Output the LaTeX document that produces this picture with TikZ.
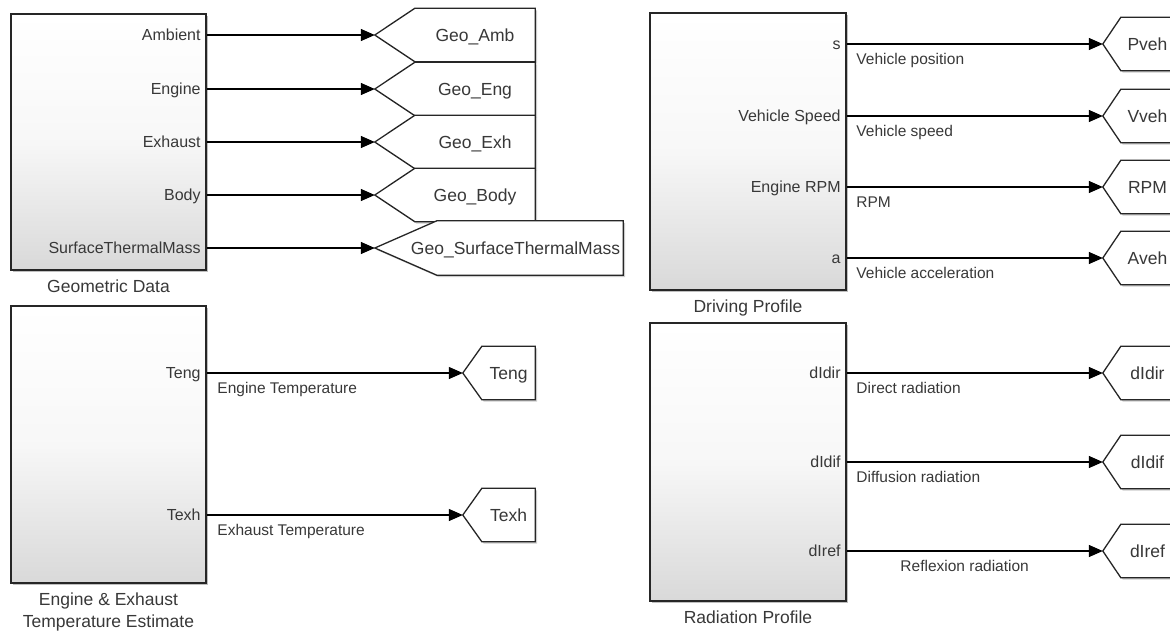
\documentclass[tikz,border=0pt]{standalone}
\usepackage{fontspec}
\setmainfont{Liberation Sans}
\usetikzlibrary{calc,positioning,arrows.meta,shadows}
\pgfdeclarelayer{background}
\pgfsetlayers{background,main}
\tikzset{
% Subsystem blocks: shaded box with a soft shadow
sub block/.style={draw=black!85,line width=1.6pt,top color=white,bottom color=black!15,middle color=white!97!black,
  drop shadow={shadow xshift=2pt,shadow yshift=-2pt,opacity=0.25,fill=black}},
% Port names, written inside the block at its right edge
port/.style={anchor=east,inner xsep=6pt,inner ysep=0pt,text height=11.5pt,text depth=0pt,text=black!78,
  font=\fontsize{16}{18}\selectfont},
% Signal names under the lines
sig name/.style={anchor=north west,inner sep=0pt,text height=11pt,text depth=0pt,text=black!78,
  font=\fontsize{15.5}{18}\selectfont,xshift=9pt,yshift=-9pt},
block name/.style={inner sep=0pt,align=center,text=black!78,font=\fontsize{17.5}{21.5}\selectfont},
% Goto tags: the node is the flat part, the tip is added afterwards
goto/.style={minimum height=53pt,inner sep=0pt,text height=12.5pt,text depth=0pt,text=black!78,
  font=\fontsize{17.5}{20}\selectfont},
goto box/.style={draw=black!85,line width=1.3pt,fill=white,
  drop shadow={shadow xshift=2pt,shadow yshift=-2pt,opacity=0.2,fill=black}},
sig/.style={draw=black,line width=1.3pt,-{Triangle[length=14pt,width=12pt]}}
}

\begin{document}
\begin{tikzpicture}[x=1pt,y=-1pt]
  \useasboundingbox (0,0) rectangle (1170,630);
  \clip (0,0) rectangle (1170,630);
  % Subsystems
  \node[sub block,minimum width=195pt,minimum height=256pt] (geo) at (108.5,142) {};
  \node[sub block,minimum width=195pt,minimum height=277pt] (eng) at (108.5,444.5) {};
  \node[sub block,minimum width=196pt,minimum height=277pt] (drv) at (748,151.5) {};
  \node[sub block,minimum width=196pt,minimum height=278pt] (rad) at (748,462) {};
  \node[block name,below=9pt of geo] (geo-name) {Geometric Data};
  \node[block name,below=9pt of eng] (eng-name) {Engine \& Exhaust\\Temperature Estimate};
  \node[block name,below=9pt of drv] (drv-name) {Driving Profile};
  \node[block name,below=9pt of rad] (rad-name) {Radiation Profile};
  % Output ports
  \node[port] (p-amb) at (geo.east |- 0,35) {Ambient};
  \node[port] (p-eng) at (geo.east |- 0,89) {Engine};
  \node[port] (p-exh) at (geo.east |- 0,142) {Exhaust};
  \node[port] (p-body) at (geo.east |- 0,195) {Body};
  \node[port] (p-stm) at (geo.east |- 0,248) {SurfaceThermalMass};
  \node[port] (p-teng) at (eng.east |- 0,373) {Teng};
  \node[port] (p-texh) at (eng.east |- 0,515) {Texh};
  \node[port] (p-s) at (drv.east |- 0,44) {s};
  \node[port] (p-speed) at (drv.east |- 0,116) {Vehicle Speed};
  \node[port] (p-rpm) at (drv.east |- 0,187) {Engine RPM};
  \node[port] (p-a) at (drv.east |- 0,258) {a};
  \node[port] (p-didir) at (rad.east |- 0,373) {dIdir};
  \node[port] (p-didif) at (rad.east |- 0,462) {dIdif};
  \node[port] (p-diref) at (rad.east |- 0,551) {dIref};
  % Goto tags
  \node[goto,minimum width=120pt] (g-amb) at (475,35) {Geo\_Amb};
  \node[goto,minimum width=120pt] (g-eng) at (475,89) {Geo\_Eng};
  \node[goto,minimum width=120pt] (g-exh) at (475,142) {Geo\_Exh};
  \node[goto,minimum width=120pt] (g-body) at (475,195) {Geo\_Body};
  % text is wider than the tag, so it spills over the left side
  \node[goto,minimum width=186pt,minimum height=54pt] (g-stm) at (530,248)
    {\makebox[186pt][c]{\hspace{-29pt}Geo\_SurfaceThermalMass}};
  \node[goto,minimum width=53pt] (g-teng) at (508.5,373) {Teng};
  \node[goto,minimum width=53pt] (g-texh) at (508.5,515) {Texh};
  \node[goto,minimum width=53pt] (g-pveh) at (1147.5,44) {Pveh};
  \node[goto,minimum width=53pt] (g-vveh) at (1147.5,116) {Vveh};
  \node[goto,minimum width=53pt] (g-rpm) at (1147.5,187) {RPM};
  \node[goto,minimum width=53pt] (g-aveh) at (1147.5,258) {Aveh};
  \node[goto,minimum width=53pt] (g-didir) at (1147.5,373) {dIdir};
  \node[goto,minimum width=53pt] (g-didif) at (1147.5,462) {dIdif};
  \node[goto,minimum width=53pt] (g-diref) at (1147.5,551) {dIref};
  % tip of each tag, and its outline behind the text
  \foreach \g/\s in {g-amb/40,g-eng/40,g-exh/40,g-body/40,g-stm/62,g-teng/19,g-texh/19,
      g-pveh/18,g-vveh/18,g-rpm/18,g-aveh/18,g-didir/18,g-didif/18,g-diref/18}{
    \coordinate (\g-in) at ($(\g.west)+(-\s,0)$);
    \begin{pgfonlayer}{background}
      \draw[goto box] (\g-in) -- (\g.north west) -- (\g.north east) -- (\g.south east) -- (\g.south west) -- cycle;
    \end{pgfonlayer}
  }
  % Signals
  \draw[sig] (p-amb.east) -- (g-amb-in);
  \draw[sig] (p-eng.east) -- (g-eng-in);
  \draw[sig] (p-exh.east) -- (g-exh-in);
  \draw[sig] (p-body.east) -- (g-body-in);
  \draw[sig] (p-stm.east) -- (g-stm-in);
  \draw[sig] (p-teng.east) -- (g-teng-in) node[sig name,pos=0,xshift=1pt] {Engine Temperature};
  \draw[sig] (p-texh.east) -- (g-texh-in) node[sig name,pos=0,xshift=1pt] {Exhaust Temperature};
  \draw[sig] (p-s.east) -- (g-pveh-in) node[sig name,pos=0] {Vehicle position};
  \draw[sig] (p-speed.east) -- (g-vveh-in) node[sig name,pos=0] {Vehicle speed};
  \draw[sig] (p-rpm.east) -- (g-rpm-in) node[sig name,pos=0] {RPM};
  \draw[sig] (p-a.east) -- (g-aveh-in) node[sig name,pos=0] {Vehicle acceleration};
  \draw[sig] (p-didir.east) -- (g-didir-in) node[sig name,pos=0] {Direct radiation};
  \draw[sig] (p-didif.east) -- (g-didif-in) node[sig name,pos=0] {Diffusion radiation};
  \draw[sig] (p-diref.east) -- (g-diref-in) node[sig name,pos=0,xshift=44pt] {Reflexion radiation};
\end{tikzpicture}
\end{document}
